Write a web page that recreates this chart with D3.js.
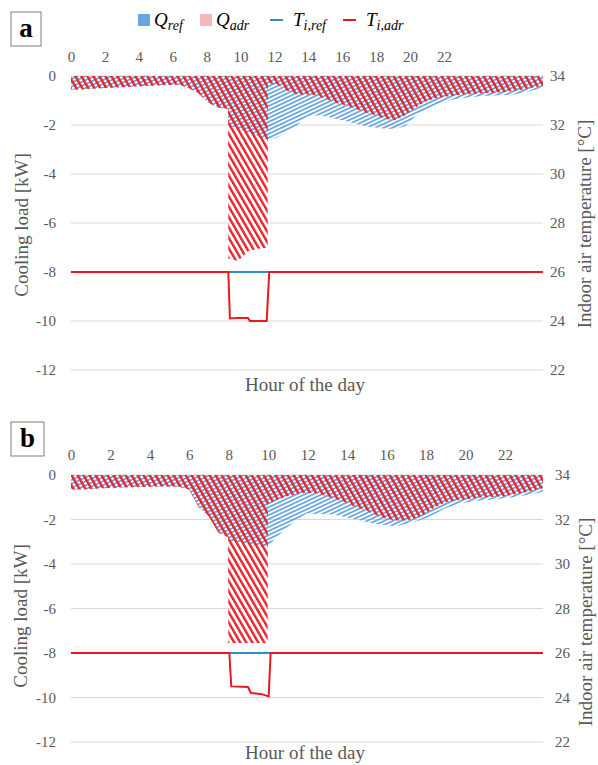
<!DOCTYPE html>
<html>
<head>
<meta charset="utf-8">
<script src="https://cdn.jsdelivr.net/npm/d3@7"></script>
<style>
body { margin: 0; background: #fff; }
</style>
</head>
<body>
<svg id="chart" width="598" height="765"></svg>
<script>
// hours of the day shared by the cooling load series
var hours = [0, 0.5, 1, 1.5, 2, 2.5, 3, 3.5, 4, 4.5, 5, 5.5, 6, 6.5, 7, 7.5, 7.99,
             8, 8.5, 9, 9.5, 10, 10.01,
             10.5, 11, 11.5, 12, 12.5, 13, 13.5, 14, 14.5, 15, 15.5, 16, 16.5, 17, 17.5,
             18, 18.5, 19, 19.5, 20, 20.5, 21, 21.5, 22, 22.5, 23, 23.5, 24];

// panel a, cooling load [kW]
var qRefA = [-0.55, -0.55, -0.52, -0.5, -0.48, -0.46, -0.44, -0.42, -0.4, -0.38, -0.37, -0.36, -0.5, -0.72, -1.1, -1.3, -1.35,
             -2.0, -2.15, -2.3, -2.45, -2.6, -2.65,
             -2.5, -2.25, -2.0, -1.65, -1.6, -1.65, -1.75, -1.85, -1.95, -2.05, -2.1, -2.15, -2.15, -2.05, -1.65,
             -1.4, -1.2, -1.05, -0.95, -0.9, -0.85, -0.82, -0.8, -0.78, -0.75, -0.68, -0.58, -0.5];
var qAdrA = [-0.55, -0.55, -0.52, -0.5, -0.48, -0.46, -0.44, -0.42, -0.4, -0.38, -0.37, -0.36, -0.5, -0.72, -1.1, -1.3, -1.35,
             -7.45, -7.55, -7.15, -7.05, -7.0, -0.3,
             -0.35, -0.6, -0.75, -0.75, -0.8, -0.95, -1.1, -1.2, -1.35, -1.5, -1.6, -1.75, -1.8, -1.6, -1.3,
             -1.05, -0.92, -0.85, -0.8, -0.75, -0.72, -0.7, -0.68, -0.65, -0.6, -0.55, -0.47, -0.4];

// panel b, cooling load [kW]
var qRefB = [-0.65, -0.65, -0.63, -0.6, -0.58, -0.56, -0.55, -0.54, -0.53, -0.52, -0.52, -0.53, -0.65, -1.45, -1.85, -2.6, -2.8,
             -2.95, -3.0, -3.1, -3.2, -3.25, -3.2,
             -2.75, -2.35, -2.0, -1.72, -1.75, -1.75, -1.8, -1.9, -2.0, -2.1, -2.2, -2.25, -2.3, -2.2, -2.1,
             -1.95, -1.75, -1.5, -1.35, -1.25, -1.18, -1.12, -1.1, -1.05, -1.0, -0.92, -0.85, -0.75];
var qAdrB = [-0.65, -0.65, -0.63, -0.6, -0.58, -0.56, -0.55, -0.54, -0.53, -0.52, -0.52, -0.53, -0.65, -1.45, -1.85, -2.6, -2.8,
             -7.55, -7.55, -7.55, -7.55, -7.55, -1.3,
             -1.1, -0.95, -0.85, -0.8, -0.82, -0.95, -1.1, -1.25, -1.45, -1.6, -1.8, -1.95, -2.05, -2.05, -1.95,
             -1.75, -1.45, -1.25, -1.15, -1.1, -1.05, -1.0, -0.98, -0.95, -0.88, -0.8, -0.7, -0.6];

// indoor air temperature [°C]
var tRefHours = [0, 24];
var tRef = [26, 26];
var tAdrHoursA = [0, 8.0, 8.08, 8.5, 9.0, 9.1, 9.95, 10.08, 24];
var tAdrA = [26, 26, 24.1, 24.12, 24.12, 24.0, 24.0, 26, 26];
var tAdrHoursB = [0, 8.05, 8.15, 9.0, 9.15, 9.7, 10.05, 10.15, 24];
var tAdrB = [26, 26, 24.5, 24.47, 24.2, 24.15, 24.05, 26, 26];

// tick labels
var hourTicks = [0, 2, 4, 6, 8, 10, 12, 14, 16, 18, 20, 22];
var loadTicks = [0, -2, -4, -6, -8, -10, -12];
var tempTicks = [34, 32, 30, 28, 26, 24, 22];

var SERIF = "'Liberation Serif', 'Times New Roman', 'DejaVu Serif', serif";

var svg = d3.select("#chart");
var defs = svg.append("defs");

defs.append("pattern")
    .attr("id", "hatchRef")
    .attr("patternUnits", "userSpaceOnUse")
    .attr("width", 10).attr("height", 3.6)
    .attr("patternTransform", "rotate(-25)")
  .append("rect")
    .attr("width", 10).attr("height", 1.6)
    .attr("fill", "#5b9fdc");

defs.append("pattern")
    .attr("id", "hatchAdr")
    .attr("patternUnits", "userSpaceOnUse")
    .attr("width", 5.2).attr("height", 10)
    .attr("patternTransform", "rotate(-30)")
  .append("rect")
    .attr("width", 2.4).attr("height", 10)
    .attr("fill", "#e8232b");

function zip(xs, ys) { return xs.map(function(h, i) { return [h, ys[i]]; }); }

function drawPanel(p) {
    var g = svg.append("g");
    var x = d3.scaleLinear().domain([0, 24]).range([71, 543]);
    // the hour labels of the original do not sit on the data positions in panel a
    var xLab = d3.scaleLinear().domain([0, 22]).range([71, p.label22]);
    var y = d3.scaleLinear().domain([-12, 0]).range([p.yBottom, p.yTop]);
    var yT = d3.scaleLinear().domain([22, 34]).range([p.yBottom, p.yTop]);

    // gridlines
    g.selectAll("line.grid").data(loadTicks).enter().append("line")
        .attr("class", "grid")
        .attr("x1", 71).attr("x2", 543)
        .attr("y1", function(d) { return y(d); }).attr("y2", function(d) { return y(d); })
        .attr("stroke", "#d9d9d9").attr("stroke-width", 1);

    var area = d3.area()
        .x(function(d) { return x(d[0]); })
        .y0(y(0))
        .y1(function(d) { return y(d[1]); });

    g.append("path").datum(zip(hours, p.qRef)).attr("d", area).attr("fill", "url(#hatchRef)");
    g.append("path").datum(zip(hours, p.qAdr)).attr("d", area).attr("fill", "url(#hatchAdr)");

    var line = d3.line()
        .x(function(d) { return x(d[0]); })
        .y(function(d) { return yT(d[1]); });

    g.append("path").datum(zip(tRefHours, tRef)).attr("d", line)
        .attr("fill", "none").attr("stroke", "#2f8bd0").attr("stroke-width", 2);
    g.append("path").datum(zip(p.tHours, p.tAdr)).attr("d", line)
        .attr("fill", "none").attr("stroke", "#e8191f").attr("stroke-width", 2);

    // axes (labels only, like the original)
    var ax = g.append("g").attr("transform", "translate(0," + p.xLabelY + ")")
        .call(d3.axisTop(xLab).tickValues(hourTicks).tickSize(0).tickPadding(0));
    var ay = g.append("g").attr("transform", "translate(56,0)")
        .call(d3.axisLeft(y).tickValues(loadTicks).tickSize(0).tickPadding(0));
    var ar = g.append("g").attr("transform", "translate(" + p.rightX + ",0)")
        .call(d3.axisRight(yT).tickValues(tempTicks).tickSize(0).tickPadding(0));
    [ax, ay, ar].forEach(function(a) {
        a.attr("font-family", null).attr("font-size", null);
        a.select(".domain").remove();
        a.selectAll("text").attr("font-size", 15).attr("fill", "#595959");
    });
    ay.selectAll("text").text(function(d) { return d < 0 ? "-" + Math.abs(d) : d; });

    // titles
    g.append("text")
        .attr("transform", "translate(" + p.leftTitleX + "," + p.leftTitleY + ") rotate(-90)")
        .attr("text-anchor", "middle").attr("font-size", 19).attr("fill", "#595959")
        .text("Cooling load [kW]");
    g.append("text")
        .attr("transform", "translate(" + p.rightTitleX + "," + p.rightTitleY + ") rotate(-90)")
        .attr("text-anchor", "middle").attr("font-size", 19).attr("fill", "#595959")
        .text("Indoor air temperature [°C]");
    g.append("text")
        .attr("x", 305).attr("y", p.xTitleY)
        .attr("text-anchor", "middle").attr("font-size", 19).attr("fill", "#595959")
        .text("Hour of the day");

    // panel letter
    g.append("rect")
        .attr("x", p.box[0]).attr("y", p.box[1]).attr("width", p.box[2]).attr("height", p.box[3])
        .attr("fill", "#fff").attr("stroke", "#7f7f7f").attr("stroke-width", 1);
    g.append("text")
        .attr("x", p.box[0] + p.box[2] / 2).attr("y", p.box[1] + p.box[3] / 2 + 8)
        .attr("text-anchor", "middle").attr("font-size", 27).attr("font-weight", "bold")
        .attr("fill", "#000")
        .text(p.letter);
}

drawPanel({ letter: "a", qRef: qRefA, qAdr: qAdrA, tHours: tAdrHoursA, tAdr: tAdrA,
    yTop: 76, yBottom: 370, label22: 444, xLabelY: 62, rightX: 550,
    leftTitleX: 28, leftTitleY: 225, rightTitleX: 591, rightTitleY: 224, xTitleY: 391,
    box: [11, 12, 30, 34] });

drawPanel({ letter: "b", qRef: qRefB, qAdr: qAdrB, tHours: tAdrHoursB, tAdr: tAdrB,
    yTop: 475, yBottom: 742, label22: 505, xLabelY: 460, rightX: 555,
    leftTitleX: 27, leftTitleY: 616, rightTitleX: 592, rightTitleY: 622, xTitleY: 759,
    box: [11, 422, 33, 34] });

// legend
var legend = svg.append("g").attr("transform", "translate(0,20)");
var legendItems = [
    { kind: "box", color: "#6aa6dc", x: 138, main: "Q", sub: "ref" },
    { kind: "box", color: "#f6b6bd", x: 200, main: "Q", sub: "adr" },
    { kind: "line", color: "#2f8bd0", x: 270, main: "T", sub: "i,ref" },
    { kind: "line", color: "#e8191f", x: 343, main: "T", sub: "i,adr" }
];
legendItems.forEach(function(it) {
    if (it.kind === "box") {
        legend.append("rect").attr("x", it.x).attr("y", -6).attr("width", 12).attr("height", 12).attr("fill", it.color);
    } else {
        legend.append("line").attr("x1", it.x).attr("x2", it.x + 13).attr("y1", 0).attr("y2", 0)
            .attr("stroke", it.color).attr("stroke-width", 2);
    }
    var t = legend.append("text")
        .attr("x", it.x + (it.kind === "box" ? 16 : 23)).attr("y", 6)
        .attr("font-size", 19).attr("font-style", "italic").attr("fill", "#000");
    t.append("tspan").text(it.main);
    t.append("tspan").attr("dy", 4).attr("font-size", 14).text(it.sub);
});

svg.selectAll("text").style("font-family", SERIF);
</script>
</body>
</html>
